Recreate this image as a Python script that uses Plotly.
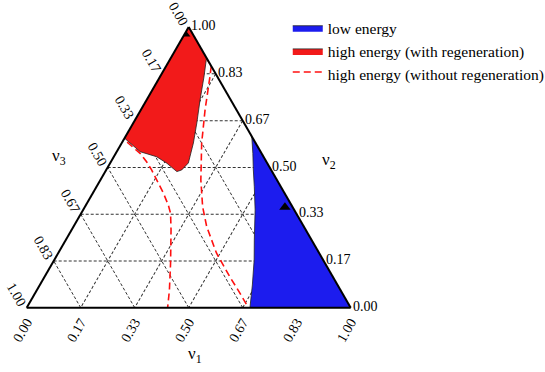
import plotly.graph_objects as go

# ---- data (ternary coordinates nu1, nu2, nu3) ----
tick_vals = [0, 1/6, 2/6, 3/6, 4/6, 5/6, 1]
tick_text = ["1.00", "0.83", "0.67", "0.50", "0.33", "0.17", "0.00"]

# low energy region
low_nu1 = [0.385, 0.393, 0.423, 0.454, 0.487, 0.531, 0.582, 0.617, 0.656, 0.689, 1.0, 0.385]
low_nu2 = [0.615, 0.604, 0.550, 0.491, 0.431, 0.348, 0.241, 0.170, 0.081, 0.0, 0.0, 0.615]
low_nu3 = [0.0, 0.003, 0.027, 0.055, 0.082, 0.121, 0.177, 0.213, 0.263, 0.311, 0.0, 0.0]

# high energy (with regeneration) region
reg_nu1 = [0.0, 0.110, 0.136, 0.165, 0.196, 0.221, 0.241, 0.233, 0.221, 0.175, 0.132, 0.072, 0.0, 0.0]
reg_nu2 = [1.0, 0.890, 0.822, 0.740, 0.658, 0.587, 0.516, 0.491, 0.485, 0.515, 0.538, 0.556, 0.604, 1.0]
reg_nu3 = [0.0, 0.0, 0.042, 0.095, 0.146, 0.192, 0.243, 0.276, 0.294, 0.310, 0.330, 0.372, 0.396, 0.0]

# high energy (without regeneration) region
noreg_nu1 = [0.139, 0.154, 0.198, 0.247, 0.310, 0.363, 0.411, 0.489, 0.572, 0.633, 0.684,
             0.435, 0.409, 0.365, 0.307, 0.276, 0.254, 0.218, 0.174, 0.140, 0.110, 0.075, 0.0, 0.0, 0.139]
noreg_nu2 = [0.861, 0.823, 0.705, 0.586, 0.455, 0.360, 0.289, 0.194, 0.110, 0.051, 0.0,
             0.0, 0.063, 0.158, 0.277, 0.336, 0.366, 0.408, 0.455, 0.491, 0.520, 0.550, 0.600, 1.0, 0.861]
noreg_nu3 = [0.0, 0.023, 0.097, 0.167, 0.235, 0.277, 0.300, 0.317, 0.318, 0.316, 0.316,
             0.565, 0.528, 0.477, 0.416, 0.388, 0.380, 0.374, 0.371, 0.369, 0.370, 0.375, 0.400, 0.0, 0.0]

# marker points
pt_nu1 = [0.0, 0.618]
pt_nu2 = [0.975, 0.358]
pt_nu3 = [0.025, 0.024]

FONT = "Liberation Serif"

fig = go.Figure()
fig.add_trace(go.Scatterternary(
    a=noreg_nu2, b=noreg_nu3, c=noreg_nu1, mode="lines", fill="toself",
    fillcolor="rgba(0,0,0,0)", line=dict(color="#ff1010", width=1.6, dash="7px,4px"),
    name="high energy (without regeneration)", legendrank=3, hoverinfo="skip"))
fig.add_trace(go.Scatterternary(
    a=reg_nu2, b=reg_nu3, c=reg_nu1, mode="lines", fill="toself",
    fillcolor="#f21a1a", line=dict(color="#222222", width=0.8),
    name="high energy (with regeneration)", legendrank=2, hoverinfo="skip"))
fig.add_trace(go.Scatterternary(
    a=low_nu2, b=low_nu3, c=low_nu1, mode="lines", fill="toself",
    fillcolor="#1c1cee", line=dict(color="#222222", width=0.8),
    name="low energy", legendrank=1, hoverinfo="skip"))
fig.add_trace(go.Scatterternary(
    a=pt_nu2, b=pt_nu3, c=pt_nu1, mode="markers",
    marker=dict(symbol="triangle-up", size=10, color="black"),
    showlegend=False, hoverinfo="skip"))

axis_common = dict(
    tickmode="array", tickvals=tick_vals, ticktext=tick_text,
    showline=True, linecolor="black", linewidth=2,
    showgrid=True, gridcolor="#333333", gridwidth=0.8, griddash="3px,2px",
    ticks="", tickfont=dict(family=FONT, size=14, color="black"),
    layer="above traces", min=0,
)

fig.update_layout(
    width=545, height=372,
    margin=dict(l=0, r=0, t=0, b=0, autoexpand=False),
    paper_bgcolor="white",
    font=dict(family=FONT, size=14, color="black"),
    ternary=dict(
        sum=1,
        domain=dict(x=[26.7/545, 350.7/545], y=[1-307.7/372, 1-27.1/372]),
        bgcolor="white",
        aaxis=dict(**axis_common, tickangle=60, title=dict(text="")),
        baxis=dict(**axis_common, tickangle=-60, title=dict(text="")),
        caxis=dict(**axis_common, tickangle=0, title=dict(text="")),
    ),
    legend=dict(x=0.528, y=0.97, xanchor="left", yanchor="top",
                bgcolor="rgba(0,0,0,0)", font=dict(family=FONT, size=15.5),
                itemwidth=30, tracegroupgap=0),
    annotations=[
        dict(text="ν<sub>1</sub>", x=195/545, y=1-368/372, xref="paper", yref="paper",
             showarrow=False, font=dict(family=FONT, size=17)),
        dict(text="ν<sub>2</sub>", x=329/545, y=1-161/372, xref="paper", yref="paper",
             showarrow=False, font=dict(family=FONT, size=17)),
        dict(text="ν<sub>3</sub>", x=50/545, y=1-157/372, xref="paper", yref="paper",
             showarrow=False, font=dict(family=FONT, size=17)),
    ],
)

fig.write_html("out.html", config={"displayModeBar": False},
               post_script="document.body.style.margin='0px';")
